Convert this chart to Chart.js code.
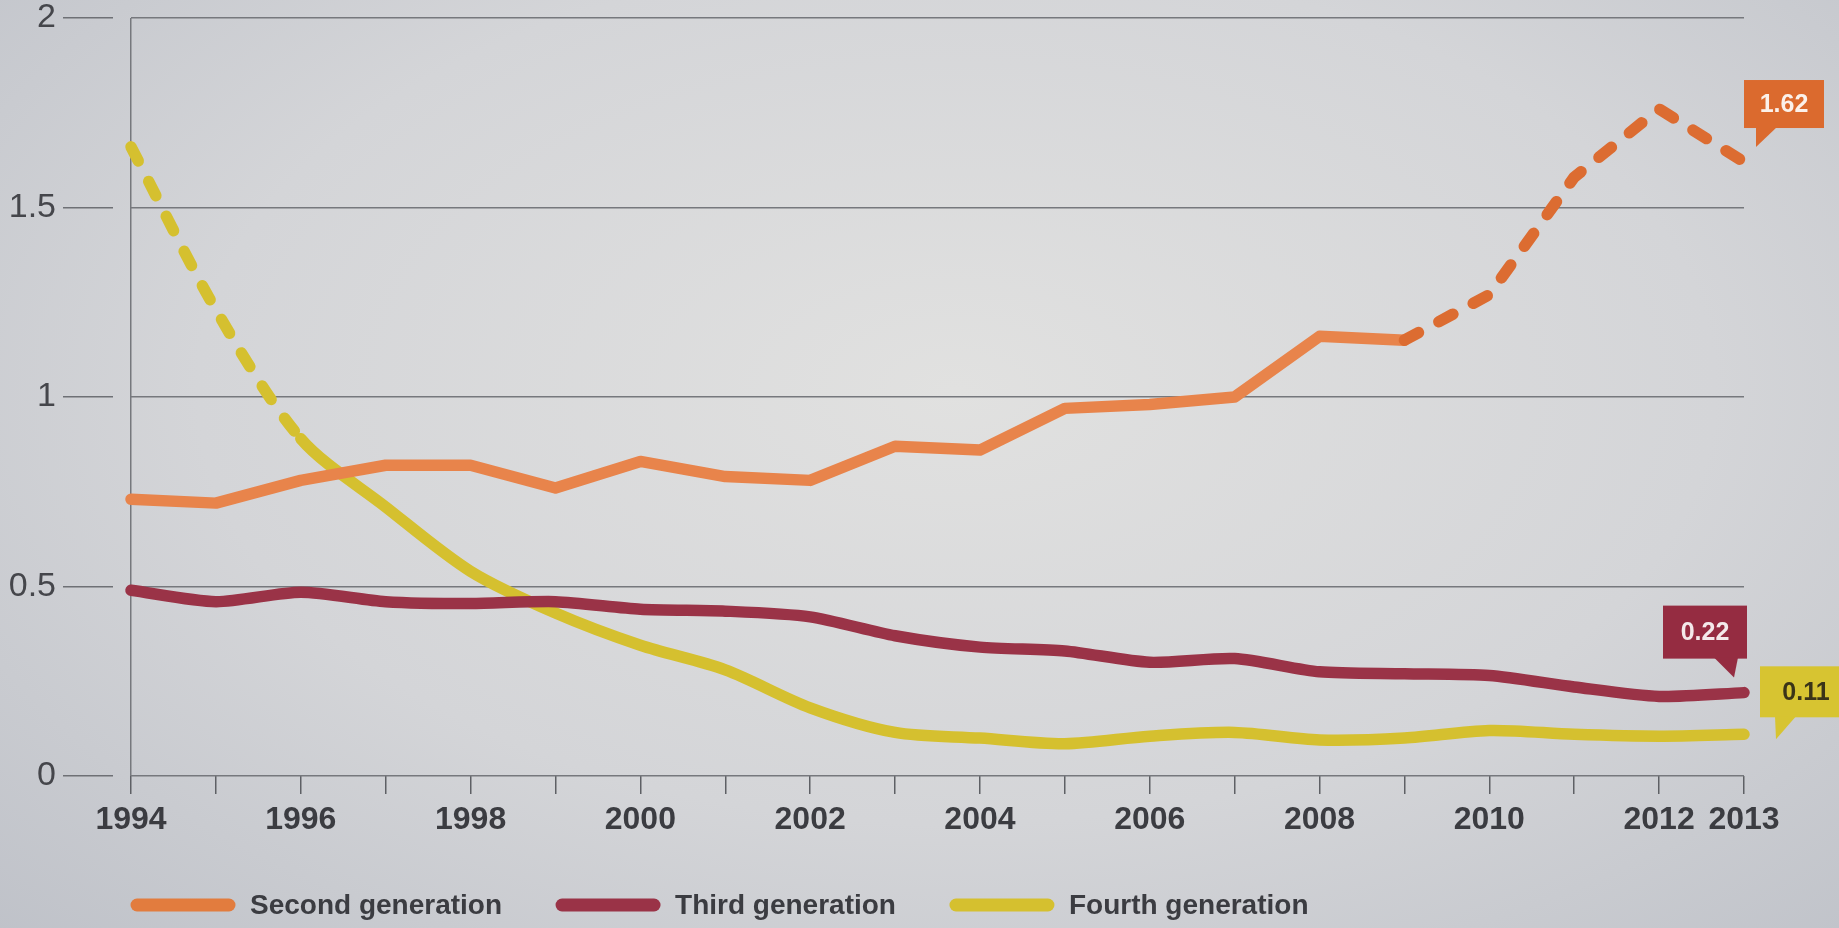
<!DOCTYPE html>
<html>
<head>
<meta charset="utf-8">
<title>Second, third and fourth generation</title>
<script src="https://cdn.jsdelivr.net/npm/chart.js@4.4.1/dist/chart.umd.min.js"></script>
<style>
  html, body { margin: 0; padding: 0; }
  body {
    width: 1839px; height: 928px; overflow: hidden;
    background: radial-gradient(ellipse 75% 85% at 52% 42%, #e1e1e0 0%, #d4d5d8 55%, #bec1c8 100%);
  }
  #wrap { position: relative; width: 1839px; height: 928px; }
</style>
</head>
<body>
<div id="wrap"><canvas id="chart"></canvas></div>
<script>
// data
const years = [1994, 1995, 1996, 1997, 1998, 1999, 2000, 2001, 2002, 2003,
  2004, 2005, 2006, 2007, 2008, 2009, 2010, 2011, 2012, 2013];
const labelledYears = [1994, 1996, 1998, 2000, 2002, 2004, 2006, 2008, 2010, 2012, 2013];
const secondGen = [0.73, 0.72, 0.78, 0.82, 0.82, 0.76, 0.83, 0.79, 0.78, 0.87,
  0.86, 0.97, 0.98, 1.00, 1.16, 1.15, 1.27, 1.58, 1.76, 1.62];
const thirdGen = [0.49, 0.46, 0.485, 0.46, 0.455, 0.46, 0.44, 0.435, 0.42, 0.37,
  0.34, 0.33, 0.30, 0.31, 0.275, 0.27, 0.265, 0.235, 0.21, 0.22];
const fourthGen = [1.66, 1.23, 0.89, 0.71, 0.54, 0.43, 0.345, 0.28, 0.18, 0.115,
  0.10, 0.085, 0.105, 0.115, 0.095, 0.10, 0.12, 0.11, 0.105, 0.11];
const seriesNames = ['Second generation', 'Third generation', 'Fourth generation'];
const yTicks = [0, 0.5, 1, 1.5, 2];

// where the lines turn dashed (index of first dashed segment / last dashed segment)
const secondDashFrom = 15;  // 2009 onwards
const fourthDashTo = 2;     // up to 1996

const ORANGE = '#e8844b', ORANGE_DARK = '#dc6c31';
const MAROON = '#9a3347';
const YELLOW = '#d5c02f';
const TEXT = '#3b3c41';
const GRID = '#76787d';
const DASH = [16, 23];

const toPoints = (vals) => vals.map((v, i) => ({ x: years[i], y: v }));

// value tags at the end of each line
const tagStyles = [
  { fill: '#db6a2e', text: '#fbf1ea', box: [0, -82, 80, 48], tail: [[12, -35], [33, -35], [12, -15]] },
  { fill: '#952c41', text: '#f4e9ea', box: [-81, -87, 84, 53], tail: [[-30, -35], [-6, -35], [-10, -15]] },
  { fill: '#d7c431', text: '#3a3418', box: [16, -68, 92, 51], tail: [[31, -18], [52, -18], [32, 5]] },
];

const endTags = {
  id: 'endTags',
  afterDatasetsDraw(chart) {
    const ctx = chart.ctx;
    chart.data.datasets.forEach((ds, i) => {
      const meta = chart.getDatasetMeta(i);
      const pt = meta.data[meta.data.length - 1];
      const s = tagStyles[i];
      const [bx, by, bw, bh] = s.box;
      ctx.save();
      ctx.fillStyle = s.fill;
      ctx.fillRect(pt.x + bx, pt.y + by, bw, bh);
      ctx.beginPath();
      ctx.moveTo(pt.x + s.tail[0][0], pt.y + s.tail[0][1]);
      ctx.lineTo(pt.x + s.tail[1][0], pt.y + s.tail[1][1]);
      ctx.lineTo(pt.x + s.tail[2][0], pt.y + s.tail[2][1]);
      ctx.closePath();
      ctx.fill();
      ctx.fillStyle = s.text;
      ctx.font = 'bold 25px "Liberation Sans", Arial, sans-serif';
      ctx.textAlign = 'center';
      ctx.textBaseline = 'middle';
      ctx.fillText(ds.data[ds.data.length - 1].y.toFixed(2), pt.x + bx + bw / 2, pt.y + by + bh / 2 + 1);
      ctx.restore();
    });
  }
};

// legend drawn under the axis, starting at the left like the print
const bottomLegend = {
  id: 'bottomLegend',
  afterDraw(chart) {
    const ctx = chart.ctx;
    let x = 131;
    const y = 905;
    ctx.save();
    ctx.font = 'bold 28px "Liberation Sans", Arial, sans-serif';
    ctx.textBaseline = 'middle';
    chart.data.datasets.forEach((ds) => {
      ctx.strokeStyle = ds.legendColor;
      ctx.lineWidth = 13;
      ctx.lineCap = 'round';
      ctx.beginPath();
      ctx.moveTo(x + 6, y);
      ctx.lineTo(x + 98, y);
      ctx.stroke();
      x += 119;
      ctx.fillStyle = TEXT;
      ctx.fillText(ds.label, x, y + 1);
      x += ctx.measureText(ds.label).width + 54;
    });
    ctx.restore();
  }
};

const ctx = document.getElementById('chart').getContext('2d');
const chart = new Chart(ctx, {
  type: 'line',
  data: {
    datasets: [
      {
        label: seriesNames[0],
        data: toPoints(secondGen),
        borderColor: ORANGE,
        legendColor: '#e27c3e',
        tension: 0,
        segment: {
          borderDash: (c) => (c.p0DataIndex >= secondDashFrom ? DASH : undefined),
          borderColor: (c) => (c.p0DataIndex >= secondDashFrom ? ORANGE_DARK : undefined),
        },
      },
      {
        label: seriesNames[1],
        data: toPoints(thirdGen),
        borderColor: MAROON,
        legendColor: MAROON,
        tension: 0.25,
      },
      {
        label: seriesNames[2],
        data: toPoints(fourthGen),
        borderColor: YELLOW,
        legendColor: YELLOW,
        tension: 0.3,
        segment: {
          borderDash: (c) => (c.p0DataIndex < fourthDashTo ? DASH : undefined),
        },
      },
    ],
  },
  options: {
    responsive: true,
    maintainAspectRatio: false,
    animation: false,
    elements: {
      line: { borderWidth: 11.5, borderCapStyle: 'round', borderJoinStyle: 'round', fill: false },
      point: { radius: 0, hoverRadius: 0 },
    },
    datasets: { line: { clip: false } },
    layout: { padding: { left: 0, right: 95, top: 18, bottom: 86 } },
    plugins: {
      legend: { display: false },
      tooltip: { enabled: false },
    },
    scales: {
      x: {
        type: 'linear',
        min: years[0],
        max: years[years.length - 1],
        afterBuildTicks: (scale) => { scale.ticks = years.map((v) => ({ value: v })); },
        afterFit: (scale) => { scale.height = 66; },
        border: { display: false },
        grid: {
          color: (c) => (c.tick && c.tick.value === years[0] ? GRID : 'rgba(0,0,0,0)'),
          lineWidth: 1.5,
          tickColor: '#5e6065',
          tickLength: 18,
        },
        ticks: {
          autoSkip: false,
          maxRotation: 0,
          padding: 7,
          color: TEXT,
          font: { family: '"Liberation Sans", Arial, sans-serif', size: 32, weight: 'bold' },
          callback: (v) => (labelledYears.includes(v) ? String(v) : ''),
        },
      },
      y: {
        min: 0,
        max: 2,
        afterBuildTicks: (scale) => { scale.ticks = yTicks.map((v) => ({ value: v })); },
        afterFit: (scale) => {
          scale.width = 131;
          scale.paddingTop = 0;
          scale.paddingBottom = 0;
        },
        border: { display: false },
        grid: {
          color: GRID,
          lineWidth: 1.4,
          tickColor: '#6e7075',
          tickLength: 68,
          tickBorderDash: [50, 200],
        },
        ticks: {
          padding: 7,
          color: '#45464b',
          font: { family: '"Liberation Sans", Arial, sans-serif', size: 34 },
          callback: (v) => String(v),
        },
      },
    },
  },
  plugins: [endTags, bottomLegend],
});
</script>
</body>
</html>
